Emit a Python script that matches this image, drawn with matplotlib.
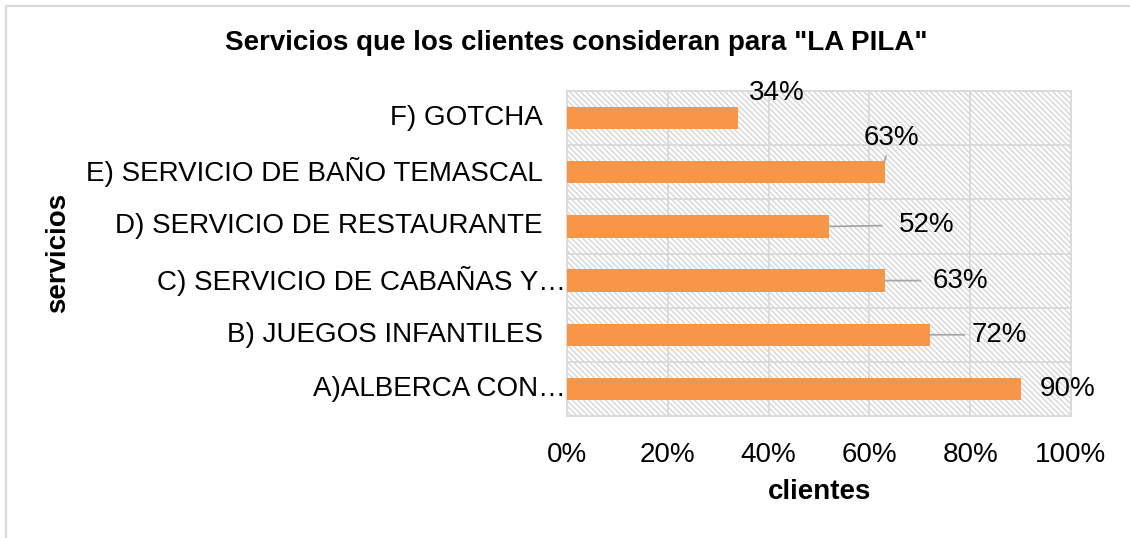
import matplotlib
matplotlib.use("Agg")
import matplotlib.pyplot as plt
from matplotlib.patches import Rectangle
from matplotlib.lines import Line2D
import numpy as np

plt.rcParams['font.family'] = ['Liberation Sans', 'DejaVu Sans']

# datos: de abajo hacia arriba, como en la gráfica
servicios = ["A)ALBERCA CON…", "B) JUEGOS INFANTILES", "C) SERVICIO DE CABAÑAS Y…",
             "D) SERVICIO DE RESTAURANTE", "E) SERVICIO DE BAÑO TEMASCAL", "F) GOTCHA"]
porcentajes = [0.90, 0.72, 0.63, 0.52, 0.63, 0.34]
recortados = [True, False, True, False, False, False]

# desplazamiento de cada etiqueta (puntos) y línea guía
etq_offset = [(34, 0), (50, 0), (55, 0), (70, 1), (5, 17), (28, 18)]
guia = [False, True, True, True, True, False]
guia_hueco = [0, 3, 7, 10, 2, 0]
desde_arriba = [False, False, False, False, True, False]

naranja = '#f79646'
gris = '#d9d9d9'

fig = plt.figure(figsize=(11.3, 5.38), dpi=100)
ax = fig.add_axes([567 / 1130, 1 - 416 / 538, 504 / 1130, 325 / 538])

# fondo rayado del área de trazado
fondo = Rectangle((0, 0), 1, 1, transform=ax.transAxes, facecolor='white',
                  edgecolor='#d6d6d6', linewidth=0, hatch='\\' * 6, zorder=0)
ax.add_patch(fondo)

y = np.arange(len(servicios))
alto = 0.41
ax.barh(y, porcentajes, height=alto, color=naranja, zorder=3)

ax.set_xlim(0, 1)
ax.set_ylim(-0.5, len(servicios) - 0.5)
ax.set_xticks(np.arange(0, 1.01, 0.2))
ax.set_xticklabels([f"{int(round(t * 100))}%" for t in np.arange(0, 1.01, 0.2)], fontsize=20)
ax.tick_params(axis='x', length=0, pad=19)
ax.set_yticks([])
for v in np.arange(0.2, 1.0, 0.2):
    ax.axvline(v, color=gris, lw=1.3, zorder=1)
for b in np.arange(0.5, len(servicios) - 1, 1):
    ax.axhline(b, color=gris, lw=1.3, zorder=1)
for s in ax.spines.values():
    s.set_color(gris)
    s.set_linewidth(1.3)

# nombres de los servicios
for i, (nombre, rec) in enumerate(zip(servicios, recortados)):
    ax.text(-0.002 if rec else -0.048, i, nombre, transform=ax.get_yaxis_transform(),
            ha='right', va='center', fontsize=20)

# etiquetas de datos
for i, v in enumerate(porcentajes):
    dx, dy = etq_offset[i]
    props = None
    if guia[i]:
        props = dict(arrowstyle='-', color='#a6a6a6', lw=1.3, shrinkA=guia_hueco[i], shrinkB=0)
    ya = i + alto / 2 if desde_arriba[i] else i
    ax.annotate(f"{int(round(v * 100))}%", xy=(v, ya),
                xytext=(dx, dy), textcoords='offset points', ha='center', va='center',
                fontsize=20, arrowprops=props, zorder=5)

fig.text(576 / 1130, 1 - 43 / 538, 'Servicios que los clientes consideran para "LA PILA"',
         ha='center', va='center', fontsize=20, fontweight='bold')
fig.text(820 / 1130, 1 - 492 / 538, 'clientes', ha='center', va='center',
         fontsize=20, fontweight='bold')
fig.text(58 / 1130, 1 - 253 / 538, 'servicios', ha='center', va='center', rotation=90,
         fontsize=20, fontweight='bold')

# marco del gráfico
fig.add_artist(Line2D([6 / 1130, 6 / 1130], [0, 1 - 6 / 538], transform=fig.transFigure,
                      color=gris, lw=1.5))
fig.add_artist(Line2D([6 / 1130, 1], [1 - 6 / 538, 1 - 6 / 538], transform=fig.transFigure,
                      color=gris, lw=1.5))

fig.savefig('out.png', dpi=100)
